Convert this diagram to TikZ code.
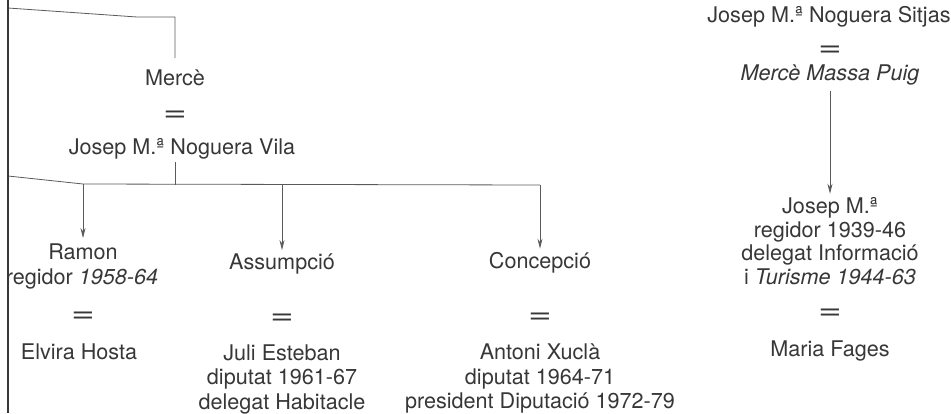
\documentclass[tikz,border=0pt]{standalone}
\usepackage{fontspec}
\usepackage{graphicx}
\setmainfont{TeX Gyre Heros}
\usetikzlibrary{arrows.meta}
\definecolor{ink}{RGB}{55,55,55}
\definecolor{rule}{RGB}{90,90,90}
\newcommand{\weq}{\scalebox{1.45}[1]{=}}
\tikzset{
  x=1pt,y=-1pt,
  txt/.style={inner sep=0pt,anchor=base,text=ink,font=\fontsize{21.6}{24}\selectfont},
  eqs/.style={inner sep=0pt,anchor=base,text=ink,font=\fontsize{28}{28}\selectfont},
  conn/.style={draw=rule,line width=0.8pt},
  arr/.style={conn,-{Stealth[length=10pt,width=5pt]}}
}
\begin{document}
\begin{tikzpicture}
\useasboundingbox (0,0) rectangle (951,413);
% left column
\node[txt] (mer) at (175,85) {Mercè};
\node[eqs] (eq1) at (175,121) {\weq};
\node[txt] (jnv) at (182,154) {Josep M.ª Noguera Vila};
\coordinate (tl) at (8,8);
\coordinate (tm) at (137,17);
\coordinate (tr) at (175,58);
\draw[conn] (tl) -- (tm) -| (tr);
\coordinate (jv) at (175,162);
\coordinate (bl) at (8,176);
\coordinate (bm) at (83,184);
\coordinate (bj) at (175,185);
\coordinate (br) at (540,185);
\draw[conn] (jv) -- (bj);
\draw[conn] (bl) -- (bm) -- (br);
% children
\node[txt] (ramon) at (83,259) {Ramon};
\begin{scope}
\clip (9,230) rectangle (200,300);
\node[txt] (ramon2) at (82,284) {regidor \textit{1958-64}};
\end{scope}
\node[eqs] (eq2) at (83,322) {\weq};
\node[txt] (elvira) at (79,359) {Elvira Hosta};
\draw[arr] (bm) -- (83,238);

\node[txt] (assump) at (282,269) {Assumpció};
\node[eqs] (eq3) at (282,324) {\weq};
\node[txt] (juli1) at (282,360) {Juli Esteban};
\node[txt] (juli2) at (282,384) {diputat 1961-67};
\node[txt] (juli3) at (282,409) {delegat Habitacle};
\coordinate (ba) at (282,185);
\draw[arr] (ba) -- ([yshift=3pt]assump.north);

\node[txt] (concep) at (540,268) {Concepció};
\node[eqs] (eq4) at (540,323) {\weq};
\node[txt] (anto1) at (540,359) {Antoni Xuclà};
\node[txt] (anto2) at (540,384) {diputat 1964-71};
\node[txt] (anto3) at (540,408) {president Diputació 1972-79};
\draw[arr] (br) -- ([yshift=3pt]concep.north);

% right column
\node[txt] (sitjas) at (829,22) {Josep M.ª Noguera Sitjas};
\node[eqs] (eq5) at (830,56) {\weq};
\node[txt] (massa) at (830,80) {\textit{Mercè Massa Puig}};
\node[txt] (jm1) at (830,213) {Josep M.ª};
\node[txt] (jm2) at (830,237) {regidor 1939-46};
\node[txt] (jm3) at (830,260) {delegat Informació};
\node[txt] (jm4) at (830,284) {i \textit{Turisme 1944-63}};
\node[eqs] (eq6) at (830,319) {\weq};
\node[txt] (maria) at (830,356) {Maria Fages};
\draw[arr] ([yshift=-6pt]massa.south) -- ([yshift=3pt]jm1.north);

% page edge line
\draw[draw=ink,line width=1.6pt] (8,0) -- (8,413);
\end{tikzpicture}
\end{document}
